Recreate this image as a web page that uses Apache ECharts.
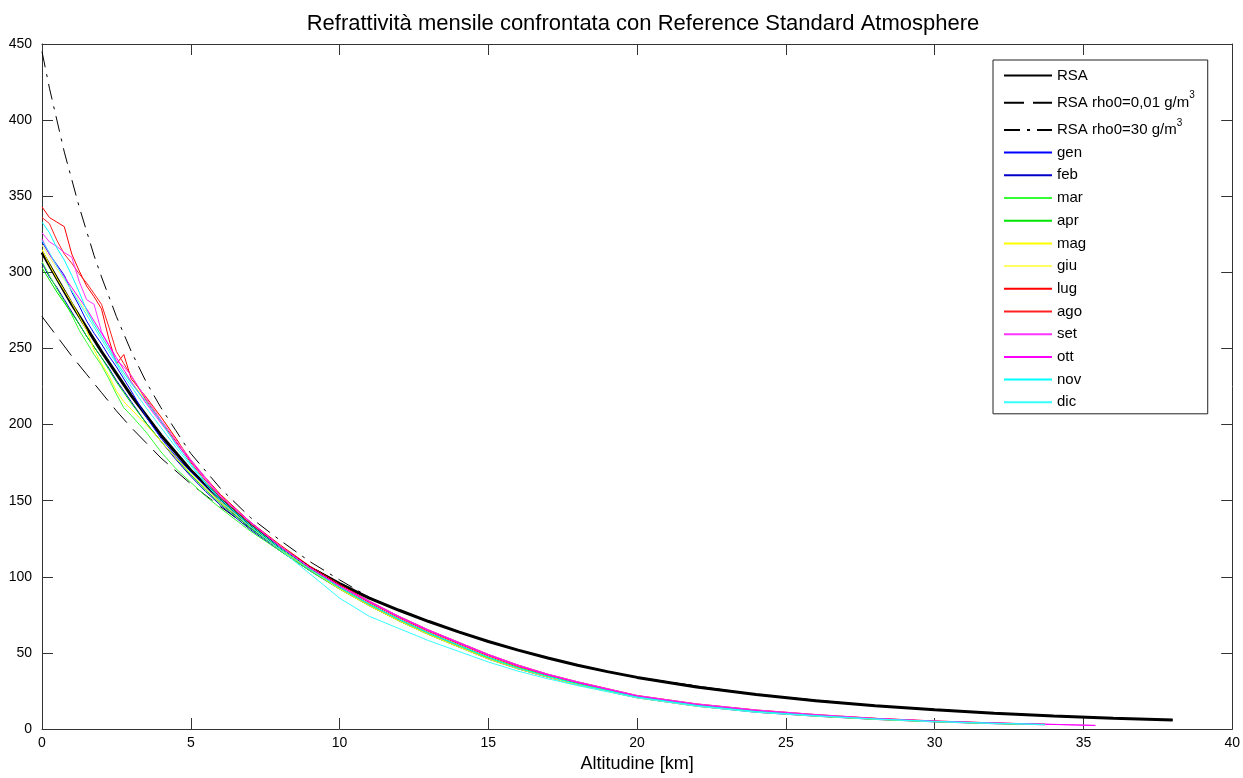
<!DOCTYPE html>
<html><head><meta charset="utf-8">
<script src="https://cdn.jsdelivr.net/npm/echarts@6/dist/echarts.min.js"></script>
<style>html,body{margin:0;padding:0;background:#fff}#c{width:1243px;height:778px}</style>
</head><body><div id="c"></div><script>
// ---------- data ----------
const titleText = 'Refrattività mensile confrontata con Reference Standard Atmosphere';
const xName = 'Altitudine [km]';

const rsaAlt = [0,1,2,3,4,5,6,7,8,9,10,11,12,13,14,15,16,17,18,19,20,22,24,26,28,30,32,34,36,38];
const rsaVal = [313,279,248,219,193,170,151,134,119,106,95.5,86,78,70.6,63.8,57.5,51.8,46.6,41.9,37.7,33.9,27.6,22.6,18.6,15.3,12.6,10.4,8.6,7.1,5.9];

const dryAlt = [0,0.5,1,1.5,2,2.5,3,3.5,4,5,6,7,8,9,10,11,12,14,16,18,20,24,28,32,36,38];
const dryVal = [271,258,245,233,221,209,198,188,178,161,146,132,119,107,96,86,78,63.8,51.8,41.9,33.9,22.6,15.3,10.4,7.1,5.9];

const wetAlt = [0,0.25,0.5,0.75,1,1.25,1.5,1.75,2,2.5,3,3.5,4,4.5,5,6,7,8,9,10,11,12,14,16,18,20,24,28,32,36,38];
const wetVal = [445,421,400,379,361,343,327,311,297,271,248,228,211,196,181,158,139,124,110,98,86.5,78,63.8,51.8,41.9,33.9,22.6,15.3,10.4,7.1,5.9];

const monAlt = [0,0.25,0.5,0.75,1,1.25,1.5,1.75,2,2.25,2.5,2.75,3,3.5,4,4.5,5,5.5,6,7,8,9,10,11,12,13,14,15,16,17,18,20,22,24,26,28,30,32,33.7,35.4];
const gen = [320,312,305,298,287,278,268,260,253,245,238,230,222,205,191,179,169,159,149,132,118,105,93,82,72,63,55,47,40,34.5,29.5,21,15.5,11.5,8.7,6.5,4.9,3.7,3,null];
const feb = [306,297,290,282,274,266,258,251,244,237,229,222,215,201,189,177,166,156,147,131,117,104,92,81,71,62,54,46,39.5,34,29,20.5,15,11,8.4,6.3,4.7,3.5,2.8,null];
const mar = [307,298,289,281,272,262,254,246,239,230,220,211,206,195,182,171,162,153,145,130,117,104,92,81,71,62,54,46.5,40,34.5,29.5,21,15.5,11.5,8.6,6.4,4.8,3.6,2.9,null];
const apr = [303,295,287,280,273,266,258,251,244,236,228,221,214,201,189,178,167,157,148,132,118,105,93,82,72,63,55,47,40.5,35,30,21.5,16,11.8,8.8,6.6,5,3.8,3,null];
const mag = [315,305,296,288,280,271,262,249,240,232,222,215,210,200,189,178,168,158,149,133,118,105,92,81,71,62,54,46,39.5,34,29,20.5,15,11.2,8.5,6.4,4.8,3.6,2.9,null];
const giu = [318,310,302,295,288,281,274,266,258,250,242,234,228,216,205,191,177,165,154,136,120,106,94,83,73,64,56,48,41,35.5,30.5,21.5,16,12,9,6.8,5.1,3.9,3.1,null];
const lug = [343,336,333,330,312,301,291,284,276,256,240,246,230,218,205,191,176,165,154,136,121,107,95,84,74,65,57,49,42,36,31,22,16.5,12.5,9.5,7,5.3,4,3.1,null];
const ago = [336,332,321,312,306,299,293,286,279,264,248,240,232,216,202,189,175,163,152,135,120,106,94,83,73,64,56,48,41,35.5,30.5,21.5,16,12,9,7,5,3.8,3,null];
const set = [326,320,317,313,310,294,282,279,261,252,242,238,232,217,203,190,177,165,153,136,120,106,94,84,74,65,57,49,42,36,31,22,16.5,12.5,9.5,7,5.2,4,3.2,2.4];
const ott = [322,312,304,297,290,283,276,268,260,252,244,236,228,214,201,188,176,164,153,136,120,106,94,83.5,73.5,64.5,56.5,48.5,41.5,35.5,30.5,21.5,16,12,9,6.8,5.1,3.9,3.1,2.3];
const nov = [333,326,316,308,298,287,275,266,258,250,241,234,227,215,202,187,174,162,151,134,119,105,93,82,72,63,55,47,40,34.5,29.5,21,15.5,11.5,8.8,6.6,5,3.8,3,null];
const dic = [321,313,304,296,288,280,272,264,256,248,240,232,225,211,198,185,173,161,150,133,118,102,86,74,66,58,51,44,38,33,28.5,20.5,15,11,8.5,6.5,4.8,3.6,2.9,null];

const monthNames = ['gen','feb','mar','apr','mag','giu','lug','ago','set','ott','nov','dic'];
const monthData = [gen,feb,mar,apr,mag,giu,lug,ago,set,ott,nov,dic];
const monthColors = ['#0000FF','#0000C8','#33FF33','#00E600','#FFFF00','#FFFF66','#FF0000','#FF2020','#FF33FF','#FF00FF','#00FFFF','#33FFFF'];

const xTicks = {min:0, max:40, interval:5};
const yTicks = {min:0, max:450, interval:50};

// ---------- chart ----------
const FF = '"Liberation Sans", Arial, Helvetica, sans-serif';
const pairs = (a, v) => a.map((x, i) => [x, v[i]]).filter(p => p[1] != null);

const axisCommon = {
  type: 'value',
  splitLine: {show: false},
  axisLine: {show: true, onZero: false, lineStyle: {color: '#333', width: 1}},
  axisTick: {show: true, inside: true, length: 11, lineStyle: {color: '#333', width: 1}},
};

const series = [
  {name: 'RSA', data: pairs(rsaAlt, rsaVal), color: '#000', lineStyle: {color: '#000', width: 3}},
  {name: 'RSA rho0=0,01 g/m3', data: pairs(dryAlt, dryVal), color: '#000', lineStyle: {color: '#000', width: 1, type: [20, 9]}},
  {name: 'RSA rho0=30 g/m3', data: pairs(wetAlt, wetVal), color: '#000', lineStyle: {color: '#000', width: 1, type: [16, 7, 3, 7]}},
].concat(monthNames.map((n, i) => ({
  name: n, data: pairs(monAlt, monthData[i]), color: monthColors[i],
  lineStyle: {color: monthColors[i], width: 1}
}))).map(s => Object.assign({type: 'line', symbol: 'none', showSymbol: false, smooth: false,
  xAxisIndex: 0, yAxisIndex: 0, emphasis: {disabled: true}}, s));

const chart = echarts.init(document.getElementById('c'), null, {renderer: 'canvas'});
chart.setOption({
  animation: false,
  backgroundColor: '#fff',
  title: {
    text: titleText, left: 638, top: 8, textAlign: 'center',
    textStyle: {fontFamily: FF, fontSize: 22, fontWeight: 'normal', color: '#000'}
  },
  grid: {left: 42, right: 9, top: 44, bottom: 46, containLabel: false},
  xAxis: [
    Object.assign({}, axisCommon, xTicks, {position: 'bottom', name: xName, nameLocation: 'middle', nameGap: 26,
      nameTextStyle: {fontFamily: FF, fontSize: 18, color: '#000'},
      axisLabel: {show: true, fontFamily: FF, fontSize: 14, color: '#000', margin: 7}}),
    Object.assign({}, axisCommon, xTicks, {position: 'top', axisLabel: {show: false}})
  ],
  yAxis: [
    Object.assign({}, axisCommon, yTicks, {position: 'left',
      axisLabel: {show: true, fontFamily: FF, fontSize: 14, color: '#000', margin: 10}}),
    Object.assign({}, axisCommon, yTicks, {position: 'right', axisLabel: {show: false}})
  ],
  legend: {
    orient: 'vertical', left: 993, top: 60, padding: [8, 13, 4, 10],
    itemGap: 7.7, itemWidth: 48, itemHeight: 14,
    backgroundColor: '#fff', borderColor: '#222', borderWidth: 1, borderRadius: 0,
    itemStyle: {color: 'rgba(0,0,0,0)', borderColor: 'rgba(0,0,0,0)', borderWidth: 0, opacity: 0},
    data: series.map(s => s.name),
    formatter: n => n.replace(/m3$/, 'm{sup|3}'),
    textStyle: {fontFamily: FF, fontSize: 15, color: '#000',
      rich: {sup: {fontFamily: FF, fontSize: 10, color: '#000', padding: [0, 0, 14, 0]}}}
  },
  series: series
});
</script></body></html>
